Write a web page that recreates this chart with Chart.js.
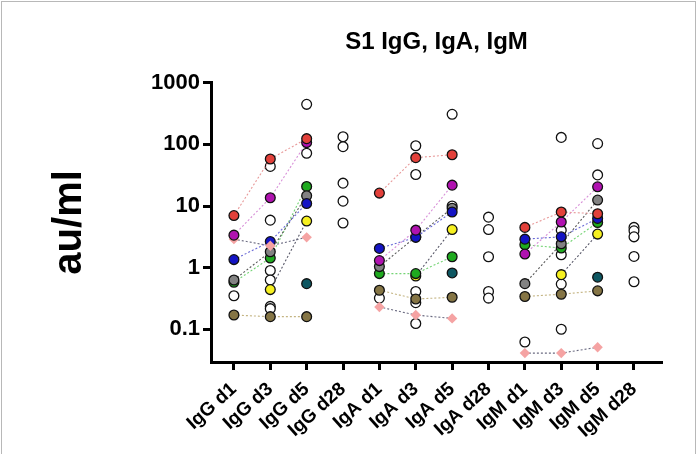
<!DOCTYPE html>
<html><head><meta charset="utf-8">
<script src="https://cdn.jsdelivr.net/npm/chart.js@4.4.0/dist/chart.umd.min.js"></script>
<style>
html,body{margin:0;padding:0;background:#fff;}
#wrap{position:relative;width:698px;height:454px;overflow:hidden;}
#frame{position:absolute;left:1px;top:1px;width:693px;height:460px;border:1px solid #b8b8b8;pointer-events:none;}
</style>
</head><body>
<div id="wrap"><canvas id="c" width="698" height="454"></canvas><div id="frame"></div></div>
<script>
// ---- data ----
const categories = ['IgG d1','IgG d3','IgG d5','IgG d28','IgA d1','IgA d3','IgA d5','IgA d28','IgM d1','IgM d3','IgM d5','IgM d28'];
const yTicks = [0.1, 1, 10, 100, 1000];
// columns of the 9 tracked values below: IgG d1,d3,d5, IgA d1,d3,d5, IgM d1,d3,d5
const dayColumns = [0, 1, 2, 4, 5, 6, 8, 9, 10];
const red    = [7.0, 58, 124,   16.2, 61, 68,     4.5, 8.0, 7.5];
const purple = [3.37, 13.6, 107, 1.3, 4.06, 21.8, 1.66, 5.5, 20.5];
const pink   = [2.9, 2.26, 3.1,  0.23, 0.17, 0.15, 0.041, 0.041, 0.051];
const blue   = [1.35, 2.65, 11,  2.05, 3.1, 8.0,  2.9, 3.16, 6.3];
const gray   = [0.63, 1.81, 14.7, 1.04, 3.16, 9.2, 0.55, 2.44, 12.5];
const green  = [0.58, 1.43, 20.8, 0.8, 0.8, 1.5,  2.35, 2.08, 5.4];
const yellow = [null, 0.44, 5.7, null, 0.73, 4.15, null, 0.77, 3.5];
const olive  = [0.17, 0.16, 0.16, 0.43, 0.31, 0.33, 0.34, 0.37, 0.42];
const teal   = [null, null, 0.55, null, null, 0.82, null, null, 0.7];
// unconnected open circles, one list per category
const openCircles = [
  [0.35],
  [44, 5.9, 0.9, 0.63, 0.235, 0.216],
  [447, 72],
  [133, 92, 23.5, 12, 5.3],
  [0.32],
  [95, 32.5, 0.41, 0.27, 0.124],
  [308, 10],
  [6.6, 4.15, 1.5, 0.41, 0.32],
  [0.062],
  [130, 4.06, 1.62, 0.54, 0.10],
  [103, 32],
  [4.5, 3.96, 3.16, 1.52, 0.59]
];

// ---- styles ----
const subjects = [
  {v: red,    fill: '#e2403a', line: '#e89a9a', style: 'circle'},
  {v: purple, fill: '#b012b0', line: '#d890d8', style: 'circle'},
  {v: pink,   fill: '#f5a3a3', line: '#6a6a80', style: 'rectRot'},
  {v: blue,   fill: '#1414c4', line: '#6a6ad6', style: 'circle'},
  {v: gray,   fill: '#828282', line: '#5a5a5a', style: 'circle'},
  {v: green,  fill: '#1faa1f', line: '#74d474', style: 'circle'},
  {v: yellow, fill: '#f6f020', line: '#5a5a6a', style: 'circle'},
  {v: olive,  fill: '#857545', line: '#c4b482', style: 'circle'},
  {v: teal,   fill: '#0e5762', line: '#0e5762', style: 'circle'}
];

const datasets = [];
subjects.forEach(s => {
  for (let g = 0; g < 3; g++) {
    const pts = [];
    for (let k = 0; k < 3; k++) {
      const i = g * 3 + k;
      if (s.v[i] !== null) pts.push({x: dayColumns[i], y: s.v[i]});
    }
    const diamond = s.style === 'rectRot';
    datasets.push({
      data: pts,
      showLine: true,
      borderColor: s.line,
      borderWidth: 1.1,
      borderDash: [2, 2],
      pointStyle: s.style,
      pointRadius: diamond ? 5.2 : 4.9,
      pointBackgroundColor: s.fill,
      pointBorderColor: diamond ? s.fill : '#111',
      pointBorderWidth: diamond ? 0 : 1.3
    });
  }
});
const openPts = [];
openCircles.forEach((list, ci) => list.forEach(v => openPts.push({x: ci, y: v})));
datasets.push({
  data: openPts,
  showLine: false,
  pointRadius: 4.9,
  pointBackgroundColor: '#ffffff',
  pointBorderColor: '#111',
  pointBorderWidth: 1.3
});

const FONT = "'Liberation Sans', Arial, sans-serif";

new Chart(document.getElementById('c'), {
  type: 'scatter',
  data: {datasets},
  options: {
    responsive: false,
    animation: false,
    layout: {padding: {left: 0, right: 36, top: 0, bottom: 0}},
    plugins: {
      legend: {display: false},
      tooltip: {enabled: false},
      title: {
        display: true,
        text: 'S1 IgG, IgA, IgM',
        fullSize: false,
        color: '#000',
        font: {family: FONT, size: 24, weight: 'bold'},
        padding: {top: 28, bottom: 26}
      }
    },
    scales: {
      x: {
        type: 'linear',
        min: -0.63, max: 11.77,
        afterBuildTicks: sc => { sc.ticks = categories.map((c, i) => ({value: i})); },
        afterFit: sc => { sc.height = 92; },
        ticks: {
          autoSkip: false,
          minRotation: 42, maxRotation: 42,
          color: '#000',
          padding: 8,
          font: {family: FONT, size: 19, weight: 'bold'},
          callback: v => categories[v]
        },
        grid: {drawOnChartArea: false, drawTicks: true, tickLength: 8, tickWidth: 3, tickColor: '#000'},
        border: {display: true, color: '#000', width: 3}
      },
      y: {
        type: 'logarithmic',
        min: 0.0294, max: 1000,
        afterBuildTicks: sc => { sc.ticks = yTicks.map(v => ({value: v})); },
        afterFit: sc => { sc.width = 211; },
        ticks: {
          color: '#000',
          padding: 3,
          font: {family: FONT, size: 22, weight: 'bold'},
          callback: v => String(v)
        },
        title: {
          display: true,
          text: 'au/ml',
          color: '#000',
          font: {family: FONT, size: 40, weight: 'bold'},
          padding: {top: 46}
        },
        grid: {drawOnChartArea: false, drawTicks: true, tickLength: 8, tickWidth: 3, tickColor: '#000'},
        border: {display: true, color: '#000', width: 3}
      }
    }
  }
});
</script>
</body></html>
